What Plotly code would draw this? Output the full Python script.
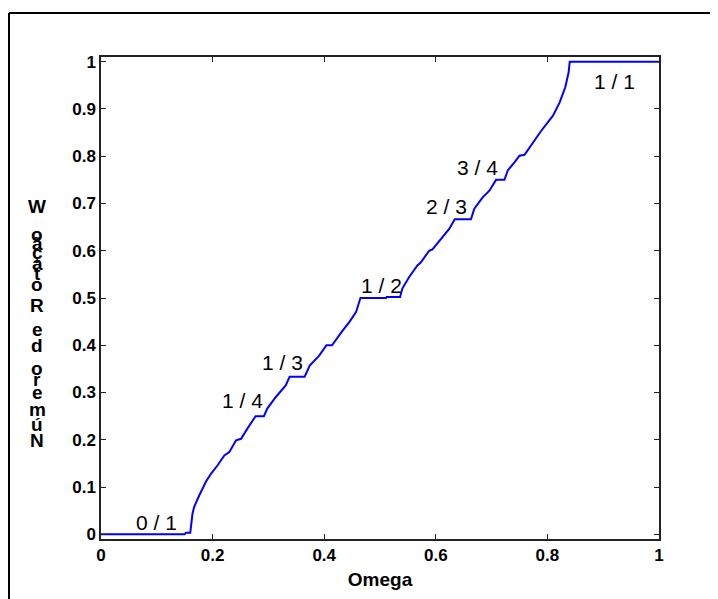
import plotly.graph_objects as go

# Winding number vs Omega
omega = [0.0, 0.150, 0.152, 0.160, 0.164, 0.167, 0.176, 0.188, 0.197, 0.209, 0.221, 0.230,
         0.242, 0.251, 0.262, 0.277, 0.292, 0.298, 0.313, 0.331, 0.338, 0.365, 0.374, 0.391,
         0.404, 0.414, 0.433, 0.445, 0.457, 0.465, 0.511, 0.512, 0.536, 0.540, 0.552, 0.558,
         0.567, 0.573, 0.588, 0.594, 0.609, 0.624, 0.634, 0.663, 0.669, 0.684, 0.696, 0.708,
         0.723, 0.729, 0.741, 0.750, 0.759, 0.774, 0.789, 0.810, 0.822, 0.832, 0.838, 0.840, 1.0]
winding = [0.0, 0.0, 0.003, 0.003, 0.044, 0.058, 0.082, 0.111, 0.128, 0.146, 0.167, 0.174,
           0.199, 0.202, 0.223, 0.250, 0.250, 0.266, 0.290, 0.315, 0.3333, 0.3333, 0.357, 0.378,
           0.400, 0.400, 0.431, 0.449, 0.470, 0.500, 0.500, 0.502, 0.502, 0.520, 0.544, 0.555,
           0.569, 0.575, 0.600, 0.603, 0.625, 0.646, 0.6667, 0.6667, 0.689, 0.713, 0.727, 0.750,
           0.750, 0.770, 0.787, 0.801, 0.803, 0.829, 0.854, 0.886, 0.914, 0.946, 0.977, 1.0, 1.0]

# Plateau labels
label_text = ["0 / 1", "1 / 4", "1 / 3", "1 / 2", "2 / 3", "3 / 4", "1 / 1"]
label_x = [0.100, 0.253, 0.325, 0.502, 0.619, 0.674, 0.920]
label_y = [0.025, 0.283, 0.364, 0.526, 0.693, 0.776, 0.958]

x_ticks = [0, 0.2, 0.4, 0.6, 0.8, 1]
x_tick_text = ["0", "0.2", "0.4", "0.6", "0.8", "1"]
y_ticks = [0, 0.1, 0.2, 0.3, 0.4, 0.5, 0.6, 0.7, 0.8, 0.9, 1]
y_tick_text = ["0", "0.1", "0.2", "0.3", "0.4", "0.5", "0.6", "0.7", "0.8", "0.9", "1"]

# y-axis title drawn as upright stacked characters (top to bottom)
ylabel_chars = ["W", "o", "ã", "ç", "a", "t", "o", "R", "e", "d", "o", "r", "e", "m", "ú", "N"]

OFF = 8  # browser body margin
W, H = 710, 591
L, R, T, B = 93, 59, 49, 60
pw, ph = W - L - R, H - T - B

def px2paperx(px):  # px in page pixels
    return (px - OFF - L) / pw

def py2papery(py):
    return (H - B - (py - OFF)) / ph

FONT = "Liberation Sans, Arial, sans-serif"

fig = go.Figure()
fig.add_trace(go.Scatter(x=omega, y=winding, mode="lines",
                         line=dict(color="#0000ff", width=2), hoverinfo="skip",
                         showlegend=False))

for t, x, y in zip(label_text, label_x, label_y):
    fig.add_annotation(x=x, y=y, text=t, showarrow=False,
                       font=dict(family=FONT, size=21, color="black"))

ylabel_py = [206, 234, 244, 252, 263, 273, 284, 305, 329, 345, 369, 379, 392, 409, 424, 440]
for ch, py in zip(ylabel_chars, ylabel_py):
    fig.add_annotation(xref="paper", yref="paper", x=px2paperx(37), y=py2papery(py),
                       text=f"<b>{ch}</b>", showarrow=False, xanchor="center", yanchor="middle",
                       font=dict(family=FONT, size=19, color="black"))

# outer frame (top and left edges)
fx = px2paperx(9)
fy = py2papery(13)
fig.add_shape(type="line", xref="paper", yref="paper", x0=fx, x1=px2paperx(730), y0=fy, y1=fy,
              line=dict(color="black", width=2))
fig.add_shape(type="line", xref="paper", yref="paper", x0=fx, x1=fx, y0=fy, y1=py2papery(610),
              line=dict(color="black", width=2))

axis_common = dict(showline=True, linecolor="#222222", linewidth=1.5, mirror="ticks",
                   ticks="inside", ticklen=5, tickcolor="#222222", tickwidth=1,
                   showgrid=False, zeroline=False,
                   tickfont=dict(family=FONT, size=17, color="black"))

fig.update_xaxes(range=[0, 1], tickvals=x_ticks, ticktext=[f"<b>{t}</b>" for t in x_tick_text],
                 title=dict(text="<b>Omega</b>", standoff=9,
                            font=dict(family=FONT, size=19, color="black")),
                 **axis_common)
fig.update_yaxes(range=[-0.01, 1.01], tickvals=y_ticks,
                 ticktext=[f"<b>{t}</b>" for t in y_tick_text], **axis_common)

fig.update_layout(width=W, height=H, margin=dict(l=L, r=R, t=T, b=B, autoexpand=False),
                  paper_bgcolor="white", plot_bgcolor="white")

fig.write_html("out.html")
